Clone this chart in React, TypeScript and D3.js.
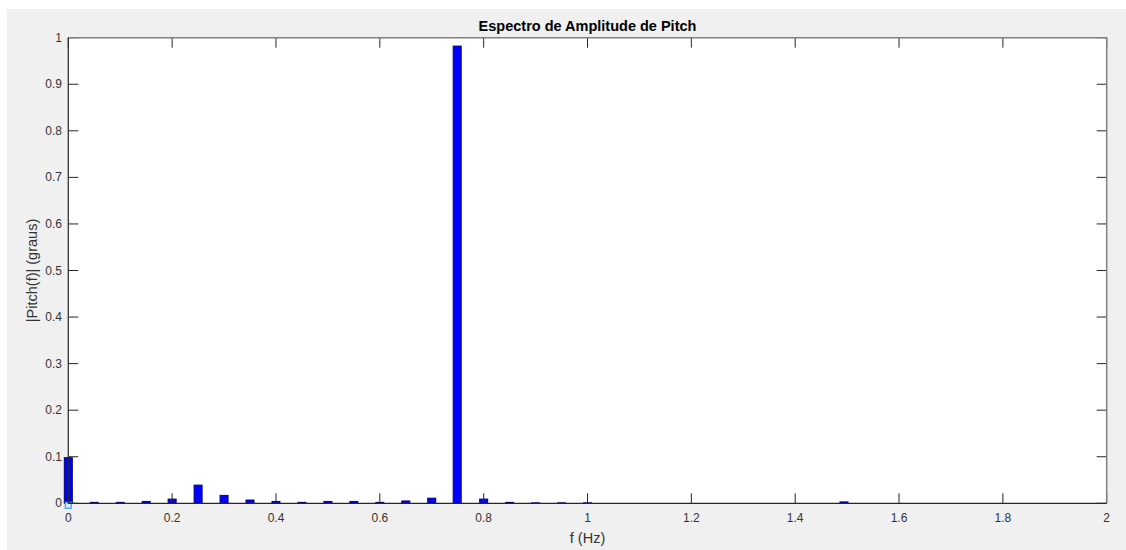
import React from "react";
import * as d3 from "d3";

const freqs = [0, 0.05, 0.1, 0.15, 0.2, 0.25, 0.3, 0.35, 0.4, 0.45, 0.5, 0.55, 0.6, 0.65, 0.7, 0.749, 0.8, 0.85, 0.9, 0.95, 1.0, 1.494];
const amps = [0.098, 0.002, 0.002, 0.004, 0.009, 0.039, 0.017, 0.007, 0.004, 0.002, 0.004, 0.004, 0.002, 0.005, 0.011, 0.982, 0.009, 0.002, 0.001, 0.001, 0.001, 0.003];
const xTicks = [0, 0.2, 0.4, 0.6, 0.8, 1, 1.2, 1.4, 1.6, 1.8, 2];
const yTicks = [0, 0.1, 0.2, 0.3, 0.4, 0.5, 0.6, 0.7, 0.8, 0.9, 1];
const title = "Espectro de Amplitude de Pitch";
const xLabel = "f (Hz)";
const yLabel = "|Pitch(f)| (graus)";

const W = 1126;
const H = 550;
const L = 68.3, R = 1106.7, T = 37.7, B = 503.3;
const font = "'Liberation Sans', Arial, Helvetica, sans-serif";

export default function App() {
  const x = d3.scaleLinear().domain([0, 2]).range([L, R]);
  const y = d3.scaleLinear().domain([0, 1]).range([B, T]);
  const barW = 8;
  const tickLen = 10;
  const axisDark = "#262626";
  const axisGray = "#808080";
  return (
    <div style={{ position: "fixed", left: 0, top: 0 }}>
      <svg width={W} height={H} style={{ display: "block" }}>
        <rect x={0} y={0} width={W} height={H} fill="#ffffff" />
        <rect x={7} y={9} width={W - 7} height={H - 9} fill="#f0f0f0" />
        <rect x={L} y={T} width={R - L} height={B - T} fill="#ffffff" />
        {freqs.map((f, i) => {
          const h = Math.max(y(0) - y(amps[i]), 0);
          return (
            <rect key={i} x={x(f) - barW / 2} y={y(amps[i])} width={barW} height={h}
              fill="#0000ff" stroke="#00007a" strokeWidth={1} />
          );
        })}
        <rect x={x(0) - 3} y={y(0) - 1} width={6} height={6} fill="#d6ecff" stroke="#3fa0ff" strokeWidth={1.2} />
        {xTicks.map((t, i) => (
          <g key={"xt" + i}>
            <line x1={x(t)} x2={x(t)} y1={B} y2={B - tickLen} stroke={axisDark} strokeWidth={1} />
            <line x1={x(t)} x2={x(t)} y1={T} y2={T + tickLen} stroke={axisDark} strokeWidth={1} />
            <text x={x(t)} y={522} textAnchor="middle" fontFamily={font} fontSize={12} fill="#333333">{String(t)}</text>
          </g>
        ))}
        {yTicks.map((t, i) => (
          <g key={"yt" + i}>
            <line x1={L} x2={L + tickLen} y1={y(t)} y2={y(t)} stroke={axisDark} strokeWidth={1} />
            <line x1={R} x2={R - tickLen} y1={y(t)} y2={y(t)} stroke={axisDark} strokeWidth={1} />
            <text x={62} y={y(t) + 4} textAnchor="end" fontFamily={font} fontSize={12} fill="#333333">{String(t)}</text>
          </g>
        ))}
        <line x1={L} x2={R} y1={T} y2={T} stroke={axisGray} strokeWidth={1.5} />
        <line x1={R} x2={R} y1={T} y2={B} stroke={axisGray} strokeWidth={1.5} />
        <line x1={L} x2={R} y1={B} y2={B} stroke={axisDark} strokeWidth={1.2} />
        <line x1={L} x2={L} y1={T} y2={B} stroke={axisDark} strokeWidth={1.2} />
        <text x={(L + R) / 2} y={31} textAnchor="middle" fontFamily={font} fontSize={14.5} fontWeight="bold" fill="#000">{title}</text>
        <text x={(L + R) / 2} y={543} textAnchor="middle" fontFamily={font} fontSize={14.5} fill="#333333">{xLabel}</text>
        <text transform={`translate(37, ${(T + B) / 2}) rotate(-90)`} textAnchor="middle" fontFamily={font} fontSize={14.5} fill="#333333">{yLabel}</text>
      </svg>
    </div>
  );
}
